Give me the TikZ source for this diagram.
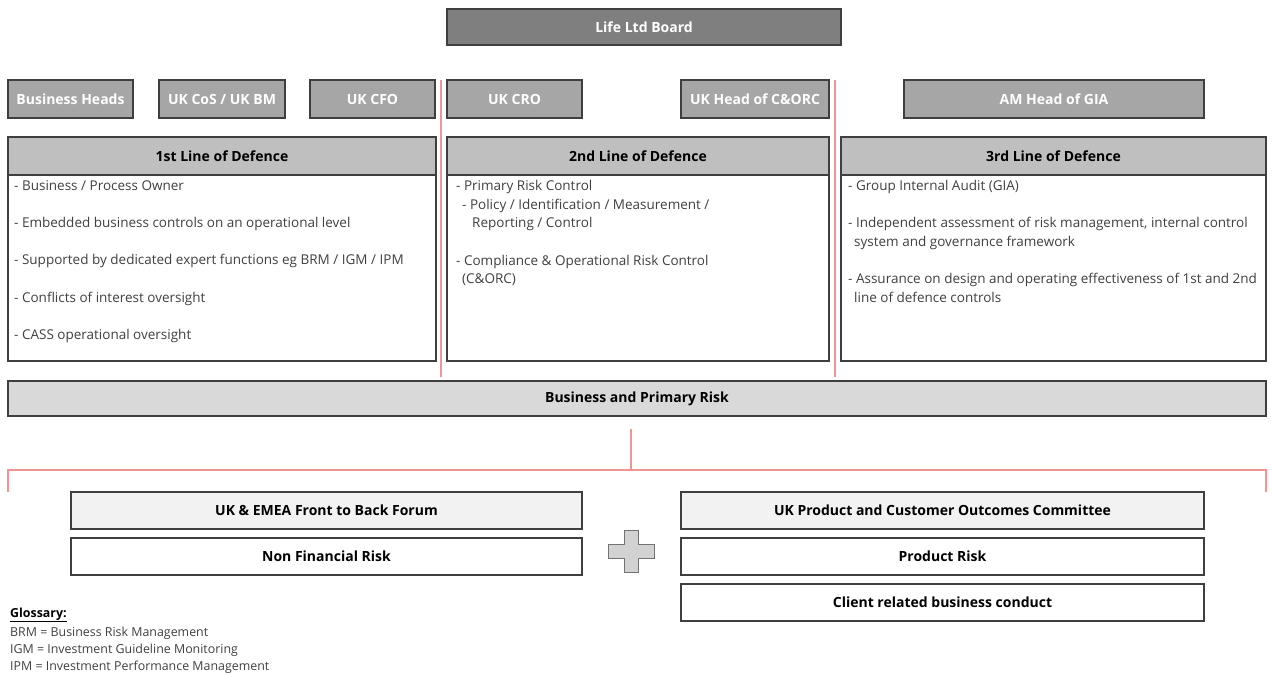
\documentclass[tikz,border=0pt]{standalone}
\usepackage{fontspec}
\setmainfont{Open Sans}
\usetikzlibrary{positioning,calc}

\definecolor{boardgray}{HTML}{7F7F7F}
\definecolor{rolegray}{HTML}{A6A6A6}
\definecolor{headgray}{HTML}{BFBFBF}
\definecolor{bargray}{HTML}{D9D9D9}
\definecolor{forumgray}{HTML}{F2F2F2}
\definecolor{edgegray}{HTML}{3F3F3F}
\definecolor{bodytext}{HTML}{404040}
\definecolor{sepred}{HTML}{F29494}

\tikzset{
  box/.style={draw=edgegray, line width=1.1pt, inner sep=0pt, align=center,
    font=\fontsize{14}{16}\selectfont\bfseries},
  rolebox/.style={box, fill=rolegray, text=white, minimum height=38pt},
  headbox/.style={box, fill=headgray, minimum height=38pt},
  bodybox/.style={draw=edgegray, line width=1.1pt, fill=white, minimum height=186pt},
  bodytxt/.style={anchor=north west, inner sep=0pt, align=left, text=bodytext,
    font=\fontsize{13.5}{18.7}\selectfont},
  sep/.style={draw=sepred, line width=1.1pt}
}

\begin{document}
\begin{tikzpicture}[x=1pt, y=-1pt]
  \useasboundingbox (0,0) rectangle (1273,675);

  % Board
  \node[box, fill=boardgray, text=white, minimum width=394pt, minimum height=36pt]
    (board) at (644,27) {Life Ltd Board};

  % Role boxes
  \node[rolebox, minimum width=125pt] (heads) at (70.5,99) {Business Heads};
  \node[rolebox, minimum width=126pt] (cos) at (222,99) {UK CoS / UK BM};
  \node[rolebox, minimum width=125pt] (cfo) at (372.5,99) {UK CFO};
  \node[rolebox, minimum width=135pt] (cro) at (514.5,99) {UK CRO};
  \node[rolebox, minimum width=148pt] (corc) at (755,99) {UK Head of C\&ORC};
  \node[rolebox, minimum width=300pt] (gia) at (1054,99) {AM Head of GIA};

  % Separators between the lines of defence
  \draw[sep] (441,80) -- (441,377);
  \draw[sep] (835,80) -- (835,377);

  % Lines of defence
  \node[bodybox, minimum width=428pt] (body1) at (222,268) {};
  \node[headbox, minimum width=428pt] (lod1) at (222,156) {1st Line of Defence};
  \node[bodybox, minimum width=382pt] (body2) at (638,268) {};
  \node[headbox, minimum width=382pt] (lod2) at (638,156) {2nd Line of Defence};
  \node[bodybox, minimum width=425pt] (body3) at (1053.5,268) {};
  \node[headbox, minimum width=425pt] (lod3) at (1053.5,156) {3rd Line of Defence};

  \node[bodytxt] (txt1) at (14,180) {- Business / Process Owner\\[18.7pt]
    - Embedded business controls on an operational level\\[18.7pt]
    - Supported by dedicated expert functions eg BRM / IGM / IPM\\[18.7pt]
    - Conflicts of interest oversight\\[18.7pt]
    - CASS operational oversight};
  \node[bodytxt] (txt2) at (456,180) {- Primary Risk Control\\
    \hspace*{6pt}- Policy / Identification / Measurement /\\
    \hspace*{16pt}Reporting / Control\\[18.7pt]
    - Compliance \& Operational Risk Control\\
    \hspace*{6pt}(C\&ORC)};
  \node[bodytxt] (txt3) at (848,180) {- Group Internal Audit (GIA)\\[18.7pt]
    - Independent assessment of risk management, internal control\\
    \hspace*{6pt}system and governance framework\\[18.7pt]
    - Assurance on design and operating effectiveness of 1st and 2nd\\
    \hspace*{6pt}line of defence controls};

  % Business and primary risk
  \node[box, fill=bargray, minimum width=1258pt, minimum height=35pt]
    (bpr) at (637,398.5) {Business and Primary Risk};

  % Split into the two forums
  \coordinate (split) at ($(bpr.south)+(-6,12)$);
  \coordinate (join) at ($(split)+(0,42)$);
  \coordinate (leftend) at (8,470);
  \coordinate (rightend) at (1266,470);
  \draw[sep] (split) -- (join);
  \draw[sep] ($(leftend)+(0,22)$) -- (leftend) -- (rightend) -- ($(rightend)+(0,22)$);

  % Forums
  \node[box, fill=forumgray, minimum width=511pt, minimum height=37pt]
    (ftb) at (326.5,510.5) {UK \& EMEA Front to Back Forum};
  \node[box, fill=white, minimum width=511pt, minimum height=37pt]
    (nfr) at (326.5,556.5) {Non Financial Risk};
  \node[box, fill=forumgray, minimum width=523pt, minimum height=37pt]
    (pcoc) at (942.5,510.5) {UK Product and Customer Outcomes Committee};
  \node[box, fill=white, minimum width=523pt, minimum height=37pt]
    (prisk) at (942.5,556.5) {Product Risk};
  \node[box, fill=white, minimum width=523pt, minimum height=37pt]
    (conduct) at (942.5,602.5) {Client related business conduct};

  % Plus sign
  \draw[draw=gray!90!black, fill=gray!35, line width=1pt, shift={(631,551)}]
    (-7,-21) -- (7,-21) -- (7,-7) -- (23,-7) -- (23,7) -- (7,7) -- (7,21)
    -- (-7,21) -- (-7,7) -- (-23,7) -- (-23,-7) -- (-7,-7) -- cycle;

  % Glossary
  \node[anchor=west, inner sep=0pt, font=\fontsize{12.4}{14}\selectfont\bfseries]
    (gloss) at (10,615) {\underline{Glossary:}};
  \node[anchor=north west, inner sep=0pt, align=left, text=bodytext,
    font=\fontsize{12.4}{17}\selectfont] (glosstxt) at (10,627)
    {BRM = Business Risk Management\\
     IGM = Investment Guideline Monitoring\\
     IPM = Investment Performance Management};
\end{tikzpicture}
\end{document}
